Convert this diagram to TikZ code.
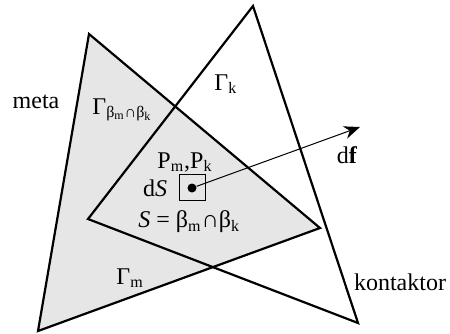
\documentclass[tikz,border=0pt]{standalone}
\usepackage{fontspec}
\setmainfont{Liberation Serif}
\usetikzlibrary{arrows.meta,positioning}
\definecolor{metagray}{HTML}{E6E6E6}

\begin{document}
\begin{tikzpicture}[
    x=0.5pt,y=-0.5pt,
    tri/.style={draw=black,line width=1.1pt,line join=miter},
    lbl/.style={font=\fontsize{12}{14}\selectfont,inner sep=0pt},
    arr/.style={-{Stealth[length=8pt,width=6.5pt]},line width=0.5pt}
]
\useasboundingbox (0,0) rectangle (450,333);
% triangle vertices
\coordinate (M1) at (89,34);
\coordinate (M2) at (38,331);
\coordinate (M3) at (320,228);
\coordinate (K1) at (253,6);
\coordinate (K2) at (358,323);
\coordinate (K3) at (88,219);
\coordinate (tip) at (360,127);

\fill[metagray] (M1) -- (M2) -- (M3) -- cycle;
\draw[tri] (M1) -- (M2) -- (M3) -- cycle;
\draw[tri] (K1) -- (K2) -- (K3) -- cycle;

% surface element
\node[draw,line width=0.6pt,minimum size=13pt,inner sep=0pt] (dS) at (192.5,187.5) {};
\node[circle,fill=black,minimum size=4.5pt,inner sep=0pt] (pt) at (192,188) {};
\draw[arr] (pt) -- (tip);

% labels
\node[lbl] (meta) at (36,102) {meta};
\node[lbl] (kont) at (400,282) {kontaktor};
\node[lbl,anchor=west] (gmk) at (92,110) {Γ\textsubscript{β\textsubscript{m}∩β\textsubscript{k}}};
\node[lbl,anchor=west] (gk) at (214,84) {Γ\textsubscript{k}};
\node[lbl,anchor=west] (gm) at (116,278) {Γ\textsubscript{m}};
\node[lbl] (df) at (347,155) {d\textbf{f}};
\node[lbl] (P) at (185,162) {P\textsubscript{m},P\textsubscript{k}};
\node[lbl] (dSl) at (155,188) {d\textit{S}};
\node[lbl,anchor=west] (S) at (138,222) {\textit{S} = β\textsubscript{m}∩β\textsubscript{k}};
\end{tikzpicture}
\end{document}
